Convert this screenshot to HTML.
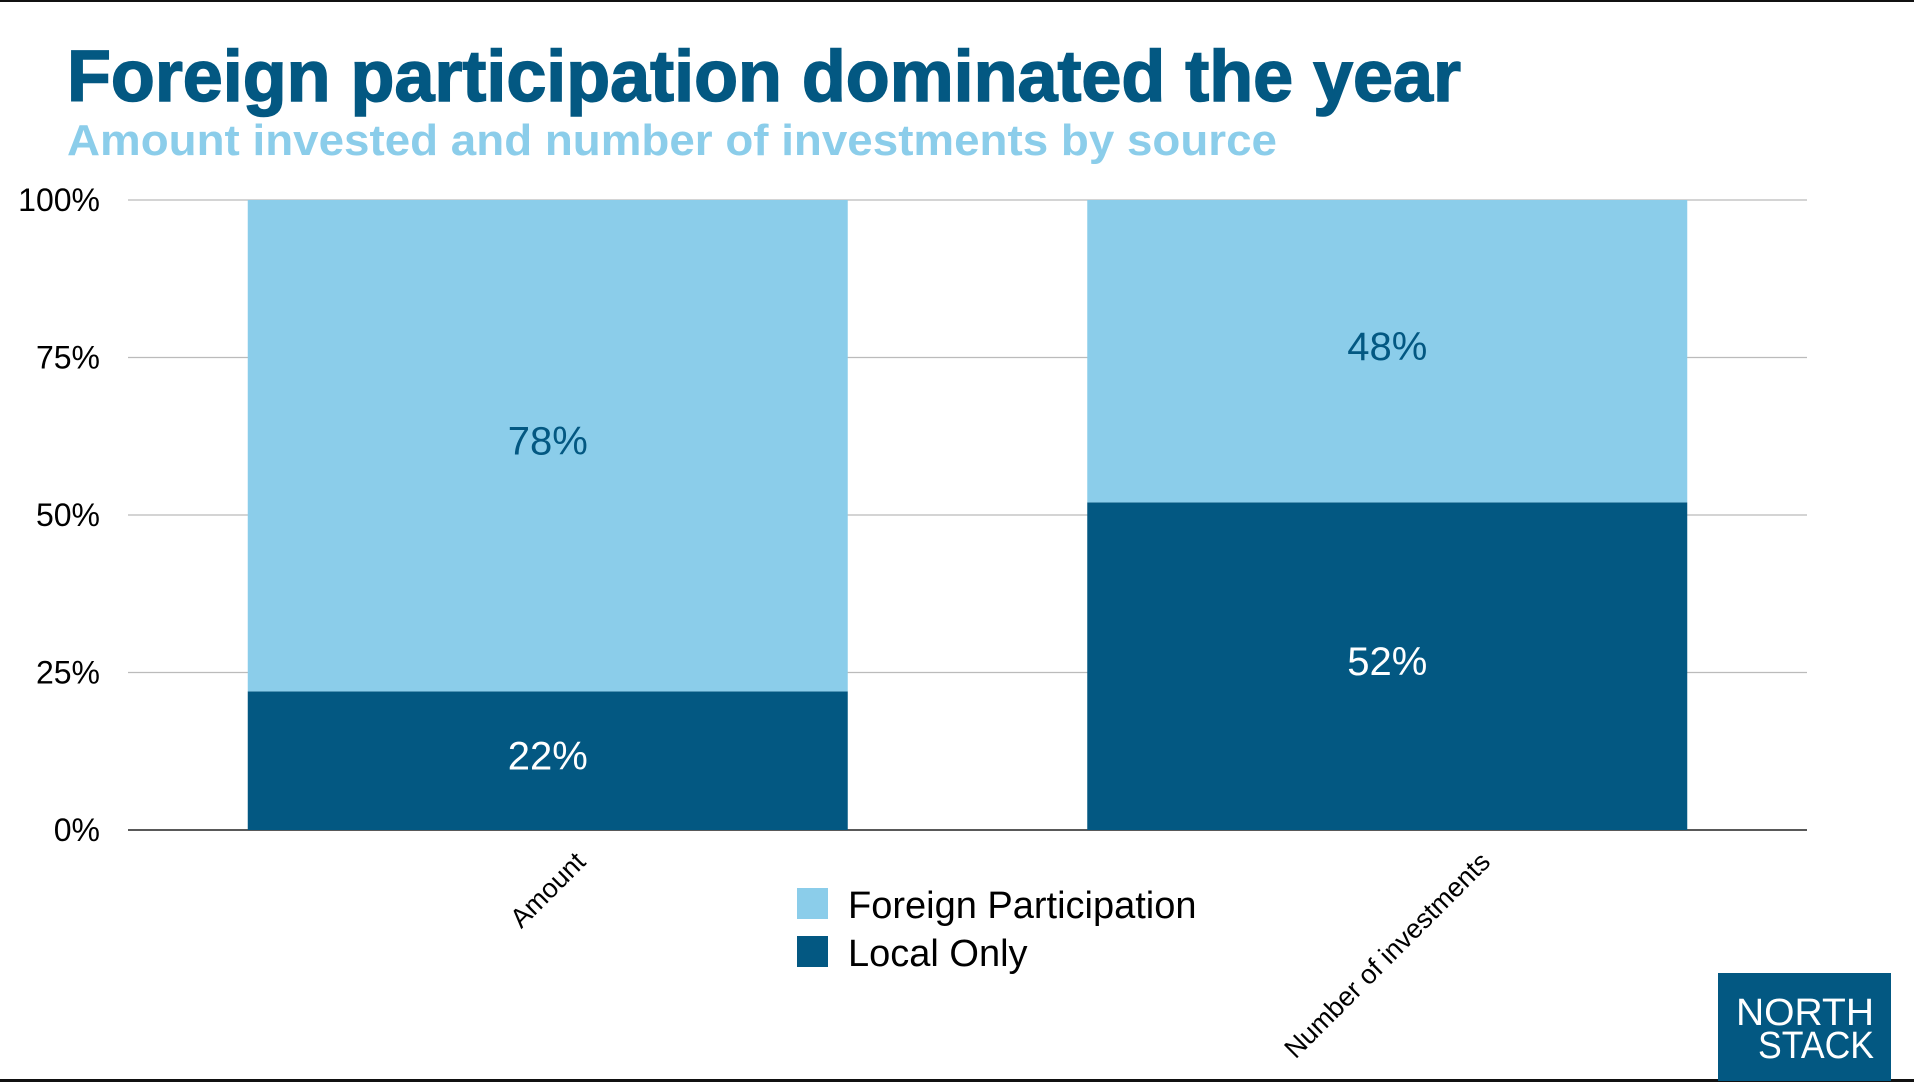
<!DOCTYPE html>
<html><head><meta charset="utf-8"><style>
html,body{margin:0;padding:0;background:#fff}
svg{display:block}
text{font-family:"Liberation Sans",sans-serif}
</style></head><body>
<svg id="c" width="1914" height="1082" viewBox="0 0 1914 1082" xmlns="http://www.w3.org/2000/svg">
<rect x="0" y="0" width="1914" height="2" fill="#111"/>
<rect x="0" y="1079" width="1914" height="3" fill="#111"/>
<text x="67" y="101" font-size="72" font-weight="bold" fill="#035882" stroke="#035882" stroke-width="1.5" textLength="1394" lengthAdjust="spacingAndGlyphs">Foreign participation dominated the year</text>
<text x="67" y="155" font-size="44" font-weight="bold" fill="#8bcdea" textLength="1210" lengthAdjust="spacingAndGlyphs">Amount invested and number of investments by source</text>
<g id="grid"></g>
<g id="bars"></g>
<g id="xlabels"></g>
<g>
<rect x="797" y="888" width="31" height="31" fill="#8bcdea"/>
<text x="848" y="918" font-size="38" fill="#000">Foreign Participation</text>
<rect x="797" y="936" width="31" height="31" fill="#035882"/>
<text x="848" y="966" font-size="38" fill="#000">Local Only</text>
</g>
<g>
<rect x="1718" y="973" width="173" height="108" fill="#035882"/>
<text x="1805" y="1025" font-size="38" fill="#fff" text-anchor="middle" textLength="138" lengthAdjust="spacingAndGlyphs">NORTH</text>
<text x="1816" y="1058" font-size="38" fill="#fff" text-anchor="middle" textLength="116" lengthAdjust="spacingAndGlyphs">STACK</text>
</g>
</svg>
<script>
const categories = ["Amount", "Number of investments"];
const localOnly = [22, 52];
const foreign = [78, 48];
const yTicks = [0, 25, 50, 75, 100];
const yTickLabels = ["0%", "25%", "50%", "75%", "100%"];

const NS = "http://www.w3.org/2000/svg";
const x0 = 128, x1 = 1807, yBase = 830, yTop = 200;
const y = v => yBase - (yBase - yTop) * v / 100;
const bandW = (x1 - x0) / categories.length;
const barW = 600;
const cx = i => x0 + bandW * (i + 0.5);
function mk(tag, attrs, parent) { const e = document.createElementNS(NS, tag); for (const k in attrs) e.setAttribute(k, attrs[k]); parent.appendChild(e); return e; }
const grid = document.getElementById('grid'), bars = document.getElementById('bars'), xl = document.getElementById('xlabels');
yTicks.forEach((t, i) => {
  const l = mk('line', {x1: x0, x2: x1, y1: y(t), y2: y(t), stroke: t === 0 ? '#222' : '#bbb', 'stroke-width': t === 0 ? 1.5 : 1.2}, grid);
  
  
  const tx = mk('text', {x: 100, y: y(t) + 11, 'font-size': 32, 'text-anchor': 'end', fill: '#000'}, grid);
  tx.textContent = yTickLabels[i];
  
  
});
categories.forEach((c, i) => {
  const mid = cx(i), left = mid - barW / 2;
  const r1 = mk('rect', {x: left, width: barW, y: y(localOnly[i]), height: y(0) - y(localOnly[i]), fill: '#035882'}, bars);
  
  
  const top = localOnly[i] + foreign[i];
  const r2 = mk('rect', {x: left, width: barW, y: y(top), height: y(localOnly[i]) - y(top), fill: '#8bcdea'}, bars);
  
  
  const t1 = mk('text', {x: mid, y: (y(0) + y(localOnly[i])) / 2 + 9, 'font-size': 40, 'text-anchor': 'middle', fill: '#fff'}, bars);
  t1.textContent = localOnly[i] + '%';
  
  
  const t2 = mk('text', {x: mid, y: (y(localOnly[i]) + y(top)) / 2 + 9, 'font-size': 40, 'text-anchor': 'middle', fill: '#035882'}, bars);
  t2.textContent = foreign[i] + '%';
  
  
  const lab = mk('text', {'font-size': 27, 'text-anchor': 'middle', fill: '#000'}, xl);
  lab.textContent = c;
  
  
  const w = lab.getComputedTextLength();
  const ly = yBase + 0.354 * w + 27;
  lab.setAttribute('x', mid); lab.setAttribute('y', ly + 9);
  lab.setAttribute('transform', `rotate(-45 ${mid} ${ly})`);
});
</script>
</body></html>
